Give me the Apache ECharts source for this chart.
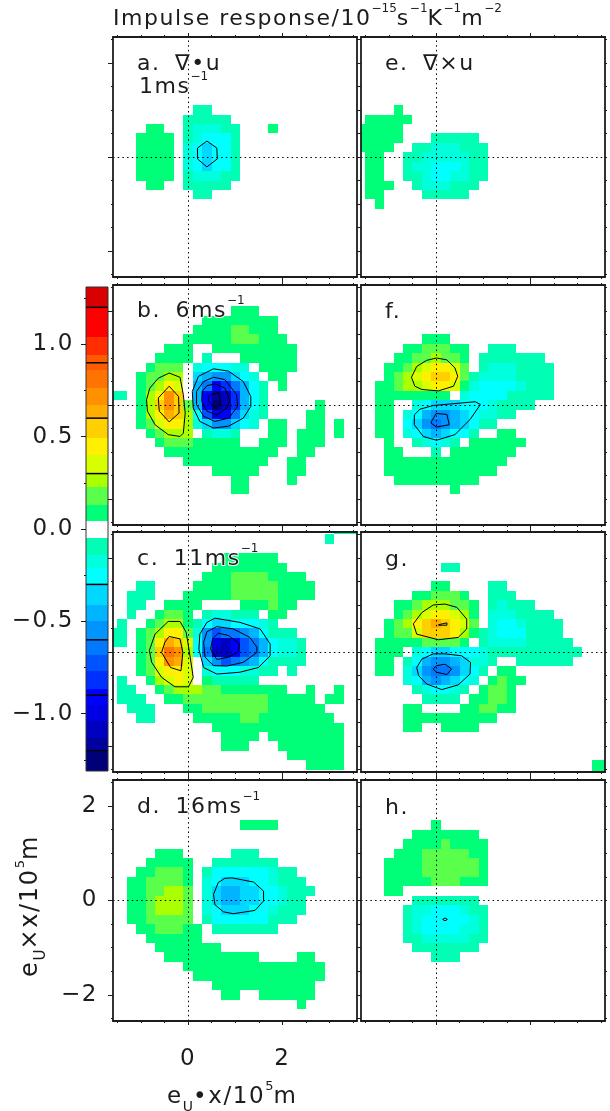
<!DOCTYPE html>
<html><head><meta charset="utf-8">
<style>html,body{margin:0;padding:0;background:#fff}#c{width:610px;height:1111px}</style>
<script src="https://cdn.jsdelivr.net/npm/echarts@6/dist/echarts.min.js"></script>
</head><body><div id="c"></div>
<script>
// wider letter spacing for normal canvas text, like the plot's stroke font; none for super/subscripts
['fillText','strokeText','measureText'].forEach(m=>{const o=CanvasRenderingContext2D.prototype[m];CanvasRenderingContext2D.prototype[m]=function(...a){this.letterSpacing=parseFloat((this.font.match(/([\d.]+)px/)||[0,20])[1])<16?'0px':'0.07em';return o.apply(this,a);};});
// colour scale: band edges (ascending) and the colour of each band
const bandEdges=[-1.31,-1.207,-1.134,-1.04,-0.954,-0.864,-0.77,-0.683,-0.6,-0.499,-0.412,-0.304,-0.213,-0.141,-0.05,0.045,0.13,0.225,0.3,0.4,0.495,0.6,0.67,0.765,0.858,0.943,1.037,1.2,1.31];
const bandColors=['#000078','#00009c','#0000c0','#0000e4','#0000ff','#0030ff','#0054ff','#0078ff','#0094ff','#00b4ff','#00d8ff','#00ffff','#00ffdc','#00ffb4','#ffffff','#00ff78','#5aff4c','#aaff00','#d8ff00','#fff000','#ffd000','#ffae00','#ff9000','#ff7400','#ff5a00','#ff2d00','#ff0000','#d80000'];
const barLines=[1.2,0.9,0.6,0.3,-0.3,-0.6,-0.9,-1.2];
// cell values (code letter -> value)
const levelValues={A:.09,B:.18,C:.26,D:.35,E:.45,F:.55,G:.64,H:.72,I:.81,J:.9,a:-.09,b:-.18,c:-.26,d:-.35,e:-.45,f:-.55,g:-.64,h:-.72,i:-.81,j:-.91,k:-1,l:-1.09,m:-1.17,n:-1.25};
// rows: [row number (y/0.2), first column (x/0.2), letters]
const panelA=[[5,1,"aa"],[4,0,"aaaaa"],[3,-4,"AA"],[3,0,"abbbaa"],[3,9,"A"],[2,-5,"AAAA"],[2,0,"abccca"],[1,-5,"AAAA"],[1,0,"bcdcca"],[0,-5,"AAAA"],[0,0,"bcdcca"],[-1,-5,"AAAA"],[-1,0,"bcdcca"],[-2,-5,"AAAA"],[-2,0,"abbbaa"],[-3,-4,"AA"],[-3,0,"aaaaa"],[-4,1,"aa"]];
const panelB=[[10,5,"AAA"],[9,2,"AAAAAAAA"],[8,1,"AAAABBAAA"],[7,0,"AAAAABBBAAA"],[6,-2,"AAA"],[6,3,"AAAAAAAAA"],[5,-3,"AAAA"],[5,2,"a"],[5,6,"AAAAAA"],[4,-4,"ABBB"],[4,1,"bcccbb"],[4,8,"AAAA"],[3,-5,"ABBCC"],[3,1,"deffdcb"],[3,9,"AA"],[2,-5,"ABCED"],[2,1,"egjigeca"],[2,10,"A"],[1,-8,"aa"],[1,-5,"ACEHF"],[1,1,"ejmlieca"],[0,-5,"ACFHFB"],[0,1,"ejnlieca"],[0,14,"A"],[-1,-5,"ACEGFC"],[-1,1,"chkjgdba"],[-1,13,"AA"],[-2,-5,"ABDEEC"],[-2,1,"bdffdcb"],[-2,9,"AA"],[-2,13,"AA"],[-2,16,"A"],[-3,-4,"ABCCC"],[-3,2,"abba"],[-3,9,"AA"],[-3,12,"AAA"],[-3,16,"A"],[-4,-3,"ABBB"],[-4,1,"AAAAA"],[-4,8,"AAA"],[-4,12,"AAA"],[-5,-2,"AAAAAAAAAAAA"],[-5,12,"AA"],[-6,0,"AAAAAAAAA"],[-6,11,"AA"],[-7,3,"AAAAA"],[-7,11,"AA"],[-8,5,"AA"],[-8,11,"A"],[-9,5,"AA"]];
const panelC=[[13,16,"aaa"],[12,15,"a"],[10,4,"AAAAAA"],[9,3,"AAAAAAAA"],[8,2,"AAABBBBAAAA"],[7,-5,"aa"],[7,1,"AAAABBBBBAAAA"],[6,-6,"aaa"],[6,0,"AAAAABBBBBAAAA"],[5,-6,"aa"],[5,-2,"AAAA"],[5,6,"AAABAA"],[4,-6,"a"],[4,-3,"ABBA"],[4,2,"abbaaa"],[4,9,"AA"],[3,-7,"a"],[3,-4,"ABCCA"],[3,1,"acddcccba"],[2,-8,"aa"],[2,-5,"ABCEEB"],[2,1,"bfhggfecaaa"],[1,-8,"aa"],[1,-5,"ABEGFD"],[1,1,"cfkljhgecbba"],[0,-5,"ABFIHC"],[0,1,"cglljhgecbba"],[-1,-5,"ABEHGD"],[-1,2,"dfhgfeca"],[-1,10,"aaa"],[-2,-5,"ABDEED"],[-2,2,"bcccbbaa"],[-2,11,"a"],[-3,-7,"a"],[-3,-4,"ACDED"],[-3,2,"Aaaaaa"],[-4,-7,"aa"],[-4,-3,"ABCCCBB"],[-4,4,"AAAAAAA"],[-4,13,"A"],[-4,16,"A"],[-5,-7,"aaa"],[-5,-2,"AABBBBBBBBB"],[-5,9,"AAAAA"],[-5,15,"AA"],[-6,-6,"aaa"],[-6,0,"AABBBBBBB"],[-6,9,"AAAAAA"],[-7,-5,"aa"],[-7,1,"AAAAABBAAAAAAAA"],[-8,3,"AAAAAAAAAAAAAA"],[-9,4,"AAAA"],[-9,9,"AAAAAAAA"],[-10,4,"AAA"],[-10,10,"AAAAAAA"],[-11,11,"AAAAAA"],[-12,13,"AAAA"]];
const panelD=[[8,6,"AAAA"],[5,-3,"AAA"],[5,5,"aaa"],[4,-4,"AAAAA"],[4,3,"aaaaaaa"],[3,-5,"AABBBA"],[3,2,"accccccbaa"],[2,-6,"AABBBBA"],[2,2,"bcdddccbaaa"],[1,-6,"AABBCCB"],[1,2,"bdeeddccbaaa"],[0,-6,"AABCCCB"],[0,2,"bdeeddccbaa"],[-1,-6,"AABCCCB"],[-1,2,"bcdddccbaaa"],[-2,-6,"AABBBBB"],[-2,2,"accccccaaa"],[-3,-5,"AABBBAA"],[-3,3,"aaaaaaa"],[-4,-4,"AAAAAA"],[-5,-3,"AAAAAAA"],[-6,-2,"AAAAAAAAAA"],[-6,12,"AA"],[-7,0,"AAAAAAAAAAAAAAA"],[-8,1,"AAAAAAAAAAAAAA"],[-9,3,"AAAAAAAAAAA"],[-10,4,"AA"],[-10,8,"AAAAAA"],[-11,12,"A"]];
const panelE=[[5,-4,"A"],[4,-7,"AAAAA"],[3,-8,"AAAAA"],[2,-8,"AAAAA"],[2,0,"aaaaa"],[1,-8,"AAAA"],[1,-2,"aabbbaaa"],[0,-7,"AA"],[0,-3,"aabbbbbaa"],[-1,-7,"AA"],[-1,-3,"abbcccbaa"],[-2,-7,"AA"],[-2,-3,"aabccbbaa"],[-3,-7,"AAA"],[-3,-2,"abbbaaa"],[-4,-7,"AA"],[-4,-1,"aaaaa"],[-5,-6,"A"]];
const panelF=[[7,-1,"AAA"],[6,-3,"AABBBAA"],[6,6,"aaa"],[5,-4,"AABBCBBA"],[5,5,"aaaaaaa"],[4,-5,"AABCDEEDB"],[4,5,"abbbaaaa"],[3,-5,"ABCDEFFEB"],[3,4,"abbbbaaaa"],[2,-6,"AABCCDEEDA"],[2,4,"bccccbaaa"],[1,-6,"AAAAAAAA"],[1,3,"bccccaaaaa"],[0,-6,"AA"],[0,-2,"bcdddcccbaaaa"],[-1,-6,"AA"],[-1,-3,"bceffedcbbaa"],[-2,-6,"AA"],[-2,-3,"cdfgfedcaa"],[-3,-6,"AA"],[-3,-3,"bcdedcca"],[-3,7,"AA"],[-4,-5,"A"],[-4,-2,"abcba"],[-4,4,"AAAAAA"],[-5,-5,"AA"],[-5,0,"a"],[-5,2,"AAAAAAA"],[-6,-5,"AAAAAAAAAAAAA"],[-7,-5,"AAAAAAAAAAAA"],[-8,-4,"AAAAAAAAA"],[-9,2,"A"]];
const panelG=[[9,1,"aa"],[7,0,"AA"],[7,6,"aa"],[6,-2,"AABBBA"],[6,6,"aaa"],[5,-4,"AABCCCBBA"],[5,6,"abaaa"],[4,-4,"ABCDEEDCA"],[4,6,"bbbaaaa"],[3,-5,"ABCEFGFEDB"],[3,6,"bccbaaaa"],[2,-5,"ABBDFFFECA"],[2,5,"abcccaaaa"],[1,-6,"AAAAABBBBA"],[1,5,"abbbbaaaaa"],[0,-6,"AAA"],[0,-2,"bcddcccbaaaaaaaaaa"],[-1,-6,"AA"],[-1,-3,"aceffedbba"],[-1,9,"aaaaaa"],[-2,-6,"AA"],[-2,-3,"bdfggfdca"],[-2,7,"AA"],[-3,-3,"bcefedcb"],[-3,6,"ABAA"],[-4,-2,"abccba"],[-4,5,"ABBA"],[-5,-1,"aaaa"],[-5,4,"AABBA"],[-6,-3,"AA"],[-6,3,"AABBAA"],[-7,-3,"AAAAAAAAAA"],[-8,-3,"AA"],[-8,1,"AAAA"],[-12,17,"AA"],[-13,17,"AA"]];
const panelH=[[8,0,"A"],[7,-2,"AAAAAAA"],[6,-3,"AAAABAAAA"],[5,-4,"AAABBBBBAA"],[4,-5,"AAAABBBBBBA"],[3,-5,"AAAABBBBBBA"],[2,-5,"AAAAABBBAAA"],[1,-5,"AA"],[0,-2,"aaaaaaa"],[-1,-3,"abbcccbaa"],[-2,-3,"abcccccba"],[-3,-3,"abccccbba"],[-4,-3,"aabbbbbaa"],[-5,-2,"aaaaaaa"],[-6,0,"aaa"]];
// contour outlines in data units (x, y)
const contoursA=[[[.40,.34],[.61,.19],[.62,-.04],[.40,-.21],[.20,-.04],[.20,.19]]];
const contoursB=[
 [[-.40,.68],[-.17,.59],[-.10,.22],[-.06,-.17],[-.10,-.60],[-.17,-.67],[-.42,-.63],[-.70,-.42],[-.86,-.13],[-.88,.11],[-.81,.36],[-.63,.57]],
 [[-.40,.40],[-.20,.18],[-.19,-.17],[-.40,-.36],[-.61,-.13],[-.63,.15]],
 [[.54,.77],[.86,.72],[1.17,.50],[1.33,.18],[1.33,-.03],[1.17,-.28],[.86,-.45],[.54,-.49],[.25,-.35],[.11,-.06],[.09,.29],[.22,.61]],
 [[.54,.59],[.78,.54],[1.03,.22],[1.05,-.03],[.86,-.28],[.57,-.35],[.33,-.24],[.18,.01],[.18,.29],[.33,.50]],
 [[.57,.45],[.78,.36],[.88,.11],[.83,-.06],[.61,-.21],[.40,-.13],[.29,.08],[.30,.29],[.40,.41]],
 [[.50,.22],[.66,.26],[.69,.01],[.54,-.04],[.43,.08],[.43,.18]]];
const contoursC=[
 [[-.42,.65],[-.17,.65],[-.04,.42],[.03,-.01],[.11,-.54],[.01,-.74],[-.28,-.74],[-.56,-.54],[-.77,-.22],[-.82,.03],[-.70,.38]],
 [[-.40,.33],[-.17,.28],[-.11,-.01],[-.15,-.40],[-.37,-.33],[-.56,-.01],[-.49,.21]],
 [[.57,.72],[1.10,.63],[1.53,.49],[1.74,.17],[1.74,-.08],[1.49,-.33],[1.10,-.43],[.61,-.47],[.33,-.33],[.23,.06],[.25,.38],[.40,.63]],
 [[.61,.54],[.96,.49],[1.31,.31],[1.46,.10],[1.46,-.01],[1.17,-.22],[.82,-.30],[.54,-.29],[.36,-.11],[.33,.21],[.40,.43]],
 [[.64,.40],[.86,.35],[1.09,.17],[1.07,.01],[.86,-.11],[.61,-.16],[.48,.06],[.52,.28]]];
const contoursD=[[[.93,.48],[1.39,.39],[1.60,.20],[1.60,-.01],[1.42,-.21],[.96,-.28],[.75,-.24],[.57,-.09],[.54,.13],[.64,.38],[.78,.47]]];
const contoursE=[];
const contoursF=[
 [[.01,1.0],[.23,.96],[.40,.79],[.46,.61],[.37,.40],[.05,.30],[-.30,.33],[-.45,.40],[-.52,.59],[-.41,.82],[-.20,.95]],
 [[-.06,-.01],[.40,.03],[.83,.07],[.94,.01],[.72,-.31],[.40,-.63],[.01,-.75],[-.27,-.67],[-.46,-.42],[-.46,-.21],[-.34,-.09]],
 [[0,-.18],[.23,-.20],[.28,-.42],[.01,-.47],[-.11,-.38]]];
const contoursG=[
 [[.19,1.02],[.44,.95],[.65,.70],[.65,.49],[.47,.31],[.05,.26],[-.41,.38],[-.48,.60],[-.30,.84],[-.06,1.0]],
 [[.05,.58],[.23,.62],[.23,.57],[.05,.57]],
 [[.19,-.04],[.54,-.08],[.73,-.22],[.72,-.47],[.47,-.70],[.12,-.80],[-.20,-.68],[-.37,-.50],[-.41,-.33],[-.30,-.15],[-.06,-.04]],
 [[.01,-.29],[.19,-.26],[.33,-.36],[.23,-.48],[.01,-.43],[-.06,-.36]]];
const contoursH=[[[.14,-.40],[.19,-.37],[.24,-.40],[.19,-.43]]];
// axis ticks
const xMajor=[0,2], xMinor=[-1.5,-1,-.5,.5,1,1.5,2.5,3,3.5];
const yMajor=[-2,0,2], yMinor=[-2.5,-1.5,-1,-.5,.5,1,1.5,2.5];
const barMajor=[-1,-.5,0,.5,1], barMinor=[-1.25,-.75,-.25,.25,.75,1.25];

const FONT='"DejaVu Sans ExtraLight","DejaVu Sans"', INK='#1c1c1c';
const cols=[113,361], rowsTop=[37,285,532,780], PW=244, PH=240;
const XR=[-1.59,3.58], YR=[-2.553,2.553];
const panels=[[panelA,contoursA,0,0],[panelB,contoursB,0,1],[panelC,contoursC,0,2],[panelD,contoursD,0,3],[panelE,contoursE,1,0],[panelF,contoursF,1,1],[panelG,contoursG,1,2],[panelH,contoursH,1,3]];

function colorOf(v){for(let k=0;k<bandColors.length;k++){if(v>=bandEdges[k]&&v<bandEdges[k+1])return bandColors[k];}return '#fff';}
function cellsOf(rows){const out=[];rows.forEach(([j,i0,s])=>{[...s].forEach((ch,n)=>{out.push([(i0+n)*0.2,j*0.2,levelValues[ch]]);});});return out;}
function renderCell(params,api){
  const x=api.value(0),y=api.value(1),v=api.value(2);
  const a=api.coord([x-.1,y+.1]),b=api.coord([x+.1,y-.1]);
  const xa=Math.round(a[0]),ya=Math.round(a[1]);
  const r=echarts.graphic.clipRectByRect({x:xa,y:ya,width:Math.round(b[0])-xa,height:Math.round(b[1])-ya},
    {x:params.coordSys.x,y:params.coordSys.y,width:params.coordSys.width,height:params.coordSys.height});
  return r&&{type:'rect',shape:r,style:{fill:colorOf(v)}};
}
const grid=[],xAxis=[],yAxis=[],series=[];
const lineOn={show:true,onZero:false,lineStyle:{color:INK,width:1.8}};
function tickAxis(kind,g,pos,vals,len,line,labelCfg,range){
  const ax={type:'value',gridIndex:g,position:pos,min:range[0],max:range[1],z:6,splitLine:{show:false},
    axisLine:line?lineOn:{show:false,onZero:false},
    axisTick:{show:true,inside:false,length:len,customValues:vals,lineStyle:{color:INK,width:1}},
    axisLabel:labelCfg||{show:false}};
  (kind==='x'?xAxis:yAxis).push(ax);
  return (kind==='x'?xAxis:yAxis).length-1;
}
const tickFont={show:true,fontFamily:FONT,fontSize:23,color:INK};
panels.forEach(([rows,conts,c,r])=>{
  const g=grid.length;
  grid.push({left:cols[c],top:rowsTop[r],width:PW,height:PH+(r===3?1:0),show:false});
  const isD=(c===0&&r===3);
  const xi=tickAxis('x',g,'bottom',xMajor,4,true,isD?{...tickFont,margin:26,customValues:xMajor,formatter:v=>String(v)}:null,XR);
  tickAxis('x',g,'top',xMajor,4,true,null,XR);
  tickAxis('x',g,'bottom',xMinor,2,false,null,XR);
  tickAxis('x',g,'top',xMinor,2,false,null,XR);
  const yi=tickAxis('y',g,'left',yMajor,c===0?5:2,true,isD?{...tickFont,margin:15,customValues:yMajor,formatter:v=>String(v).replace('-','\u2212')}:null,YR);
  tickAxis('y',g,'right',yMajor,2,true,null,YR);
  tickAxis('y',g,'left',yMinor,2,false,null,YR);
  tickAxis('y',g,'right',yMinor,2,false,null,YR);
  series.push({type:'custom',xAxisIndex:xi,yAxisIndex:yi,coordinateSystem:'cartesian2d',data:cellsOf(rows),renderItem:renderCell,
    encode:{x:0,y:1},silent:true,z:2,animation:false,
    markLine:{silent:true,symbol:'none',animation:false,label:{show:false},lineStyle:{type:[1.5,3.2],color:'#000',width:1},data:[{xAxis:0},{yAxis:0}]}});
  conts.forEach(path=>{
    series.push({type:'line',xAxisIndex:xi,yAxisIndex:yi,data:[...path,path[0]],showSymbol:false,symbol:'none',silent:true,z:4,animation:false,
      lineStyle:{color:'#000',width:1}});
  });
});
// colour bar
{
  const g=grid.length;
  grid.push({left:86,top:287,width:22,height:484,show:false});
  const BR=[-1.31,1.31];
  xAxis.push({type:'value',gridIndex:g,min:0,max:1,show:false});
  const xi=xAxis.length-1;
  const yi=tickAxis('y',g,'left',barMajor,5,false,{...tickFont,margin:12,customValues:barMajor,formatter:v=>v.toFixed(1).replace('-','\u2212')},BR);
  tickAxis('y',g,'left',barMinor,2,false,null,BR);
  const bands=bandColors.map((col,k)=>[bandEdges[k],bandEdges[k+1],col]);
  series.push({type:'custom',xAxisIndex:xi,yAxisIndex:yi,data:bands.map(b=>[b[0],b[1]]),encode:{y:[0,1]},silent:true,animation:false,z:2,
    renderItem:(p,api)=>{const a=api.coord([0,api.value(1)]),b=api.coord([1,api.value(0)]);const ya=Math.round(a[1]);
      return {type:'rect',shape:{x:a[0],y:ya,width:b[0]-a[0],height:Math.round(b[1])-ya},style:{fill:bandColors[p.dataIndex]}};}});
  series.push({type:'custom',xAxisIndex:xi,yAxisIndex:yi,data:barLines.map(v=>[v]),encode:{y:0},silent:true,animation:false,z:3,
    renderItem:(p,api)=>{const a=api.coord([0,api.value(0)]),b=api.coord([1,api.value(0)]);
      return {type:'line',shape:{x1:a[0],y1:a[1],x2:b[0],y2:b[1]},style:{stroke:'#000',lineWidth:1.5}};}});
  series.push({type:'custom',xAxisIndex:xi,yAxisIndex:yi,data:[[BR[0],BR[1]]],encode:{y:[0,1]},silent:true,animation:false,z:4,
    renderItem:(p,api)=>{const a=api.coord([0,api.value(1)]),b=api.coord([1,api.value(0)]);
      return {type:'rect',shape:{x:a[0],y:a[1],width:b[0]-a[0],height:b[1]-a[1]},style:{fill:'none',stroke:'#333',lineWidth:1}};}});
}
// text
function rich(fs){return {
  t:{fontFamily:FONT,fontSize:fs,fill:INK,stroke:'#fff',lineWidth:2,lineHeight:fs+6,verticalAlign:'bottom'},
  s:{fontFamily:FONT,fontSize:Math.round(fs*0.55),fill:INK,stroke:'#fff',lineWidth:2,lineHeight:fs+6,verticalAlign:'top'},
  d:{fontFamily:FONT,fontSize:Math.round(fs*0.62),fill:INK,stroke:'#fff',lineWidth:2,lineHeight:fs+6,verticalAlign:'bottom',padding:[0,0,-5,0]}
};}
function txt(x,y,text,fs,extra){return Object.assign({type:'text',x,y,z:20,silent:true,style:{text,x:0,y:0,rich:rich(fs),verticalAlign:'middle',font:fs+'px '+FONT}},extra||{});}
const graphic=[
 txt(113,17,'{t|Impulse response/10}{s|\u221215}{t|s}{s|\u22121}{t|K}{s|\u22121}{t|m}{s|\u22122}',22),
 txt(137,62,'{t|a. \u2009\u2207\u2022u}',22),
 txt(139,85,'{t|1ms}{s|\u22121}',22),
 txt(137,309,'{t|b. \u20096ms}{s|\u22121}',22),
 txt(137,557,'{t|c. \u200911ms}{s|\u22121}',22),
 txt(137,805,'{t|d. \u200916ms}{s|\u22121}',22),
 txt(385,62,'{t|e. \u2009\u2207\u00d7u}',22),
 txt(385,310,'{t|f.}',22),
 txt(385,558,'{t|g.}',22),
 txt(385,806,'{t|h.}',22),
 txt(167,1095,'{t|e}{d|U}{t|\u2022x/10}{s|5}{t|m}',23),
 txt(29,977,'{t|e}{d|U}{t|\u00d7x/10}{s|5}{t|m}',24,{rotation:Math.PI/2})
];
const chart=echarts.init(document.getElementById('c'),null,{renderer:'canvas',width:610,height:1111});
chart.setOption({animation:false,backgroundColor:'#fff',grid,xAxis,yAxis,series,graphic});
</script></body></html>
